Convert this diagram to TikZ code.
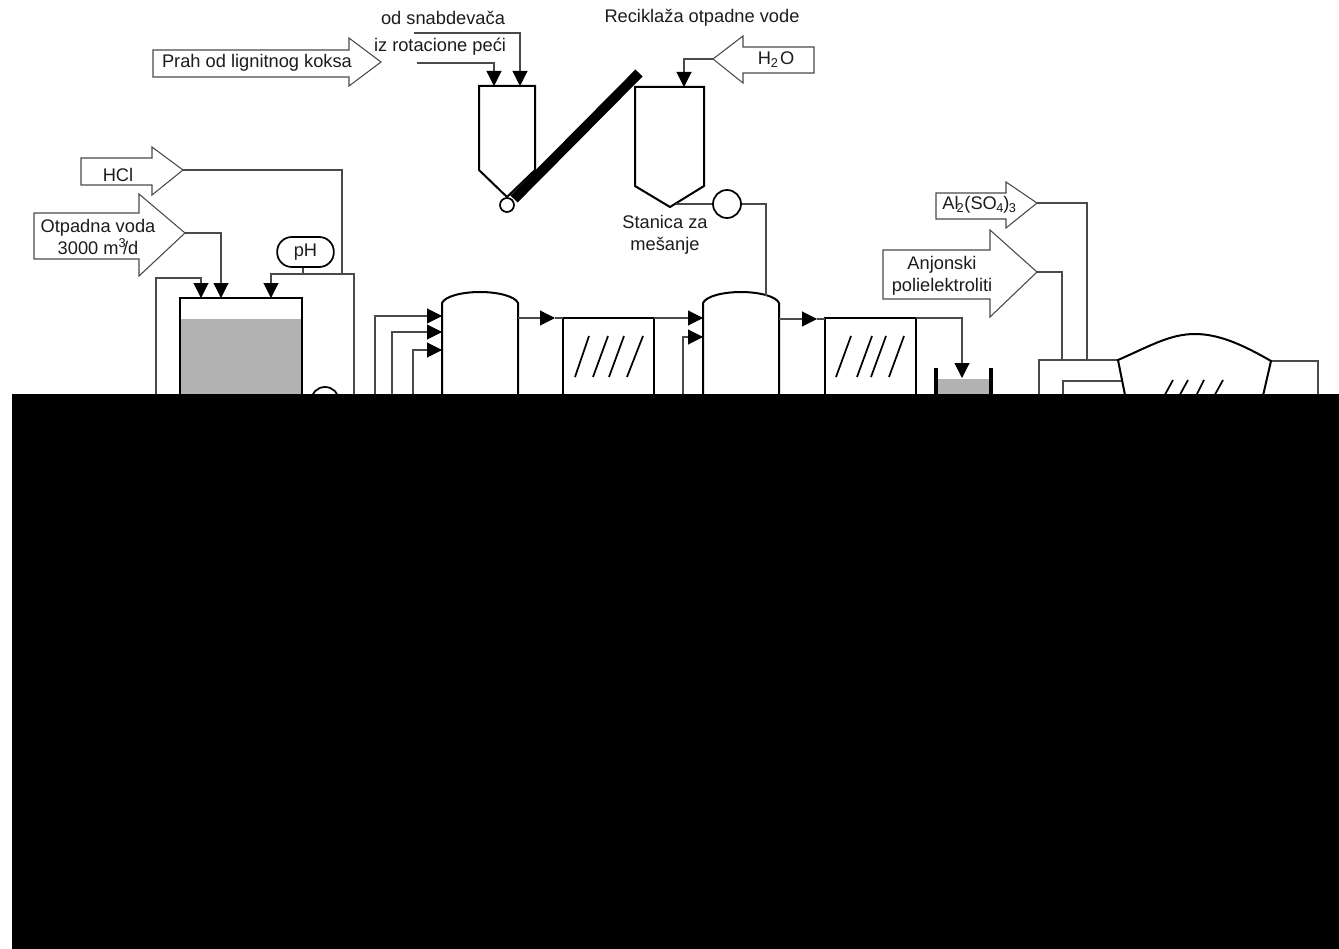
\documentclass[tikz,border=0pt]{standalone}
\usepackage{fontspec}
\setmainfont{Liberation Sans}
\usetikzlibrary{arrows.meta}
\definecolor{ink}{HTML}{1C1C1C}
\definecolor{pipeink}{HTML}{4A4A4A}
\definecolor{liquid}{HTML}{B2B2B2}
\tikzset{
  pipe/.style={draw=pipeink,line width=0.8pt},
  feed/.style={pipe,-{Triangle[length=11.25pt,width=11.25pt,color=black]}},
  wall/.style={draw=black,line width=1.5pt,line join=miter},
  bigarrow/.style={draw=pipeink,line width=0.8pt,fill=white,line join=miter},
  hatch/.style={draw=black,line width=1.3pt},
  label/.style={inner sep=0pt,text=ink,font=\fontsize{13.7}{16.5}\selectfont,align=center},
  pumpc/.style={circle,draw=black,line width=1.3pt,fill=white,inner sep=0pt,minimum size=21pt},
}
\begin{document}
\begin{tikzpicture}[x=0.75pt,y=-0.75pt]
\useasboundingbox (0,0) rectangle (1339,949);
% ---- big input arrows
\draw[bigarrow] (153,50)--(349,50)--(349,38)--(381,62)--(349,86)--(349,77)--(153,77)--cycle;
\node[label] (prah) at (257,63) {Prah od lignitnog koksa};
\draw[bigarrow] (81,158)--(152,158)--(152,147)--(183,170)--(152,195)--(152,185)--(81,185)--cycle;
\coordinate (hcltip) at (183,170);
\node[label] (hcl) at (118,175) {HCl};
\draw[bigarrow] (34,213)--(139,213)--(139,194)--(185,233)--(139,276)--(139,259)--(34,259)--cycle;
\coordinate (otptip) at (185,233);
\node[label] (otp) at (98,237) {Otpadna voda\\3000 m\textsuperscript{3}\kern-2.5pt/d};
\draw[bigarrow] (814,47)--(743,47)--(743,36)--(713,59)--(743,83)--(743,73)--(814,73)--cycle;
\coordinate (h2otip) at (713,59);
\node[label] (h2o) at (776,60) {H\textsubscript{2}\kern1pt O};
\draw[bigarrow] (936,193)--(1006,193)--(1006,182)--(1037,203)--(1006,228)--(1006,219)--(936,219)--cycle;
\coordinate (altip) at (1037,203);
\node[label] (al) at (979.5,205) {Al\kern-1.5pt\textsubscript{2}(SO\kern-.5pt\textsubscript{4}\kern-.5pt)\kern-.5pt\textsubscript{3}};
\draw[bigarrow] (883,250)--(990,250)--(990,230)--(1037,272)--(990,317)--(990,299)--(883,299)--cycle;
\coordinate (anjtip) at (1037,272);
\node[label] (anj) at (942,276) {Anjonski\\polielektroliti};
% ---- free labels
\node[label] (sn) at (443,18) {od snabdevača};
\node[label] (rot) at (440,47) {iz rotacione peći};
\node[label] (rec) at (702,18) {Reciklaža otpadne vode};
\node[label] (sta) at (665,235) {Stanica za\\mešanje};
% ---- hopper 1 with conveyor
\draw[wall] (479,86)--(535,86)--(535,170)--(507,197)--(479,170)--cycle;
\coordinate (h1a) at (494,86);
\coordinate (h1b) at (520,86);
\coordinate (rotend) at (417,63);
\coordinate (snend) at (414,33);
\draw[draw=black,line width=7.5pt] (514,199)--(639,73);
\node[pumpc,minimum size=10.5pt] (roller) at (507,205) {};
\draw[feed] (rotend) -| (h1a);
\draw[feed] (snend) -| (h1b);
% ---- hopper 2
\draw[wall] (635,87)--(704,87)--(704,186)--(670,207)--(635,186)--cycle;
\coordinate (h2top) at (684,87);
\coordinate (h2apex) at (676,204);
\draw[feed] (h2otip) -| (h2top);
\node[pumpc] (pump2) at (727,204) {};
\draw[pipe] (h2apex) -- (pump2);
% ---- pH tank
\fill[liquid] (180,319) rectangle (302,400);
\draw[wall] (180,400)--(180,298)--(302,298)--(302,400);
\coordinate (ta) at (201,298);
\coordinate (tb) at (221,298);
\coordinate (tc) at (271,298);
\coordinate (l1) at (156,400);
\coordinate (l1t) at (156,278);
\coordinate (r1) at (354,400);
\coordinate (j1) at (342,274);
\coordinate (j2) at (303,274);
\node[draw=black,line width=1.3pt,rounded corners=11pt,minimum width=42.5pt,minimum height=22.5pt,inner sep=0pt,font=\fontsize{13.7}{16.5}\selectfont,text=ink] (ph) at (305.5,252) {pH};
\draw[feed] (l1) |- (l1t) -| (ta);
\draw[feed] (otptip) -| (tb);
\draw[feed] (r1) |- (j2) -| (tc);
\draw[pipe] (hcltip) -| (j1);
\draw[pipe] (ph.south -| j2) -- (j2);
\node[pumpc] (pump1) at (325,401) {};
% ---- vessel 1
\draw[wall] (442,400)--(442,303) .. controls (445,296) and (463,292) .. (480,292) .. controls (497,292) and (515,296) .. (518,303)--(518,400);
\coordinate (v1a) at (442,316);
\coordinate (v1b) at (442,332);
\coordinate (v1c) at (442,350);
\coordinate (v1o) at (518,318);
\coordinate (la) at (375,400);
\coordinate (lb) at (392,400);
\coordinate (lc) at (413,400);
\draw[feed] (la) |- (v1a);
\draw[feed] (lb) |- (v1b);
\draw[feed] (lc) |- (v1c);
% ---- filter 1
\draw[wall] (563,400)--(563,318)--(654,318)--(654,400);
\coordinate (f1i) at (555,318);
\coordinate (f1l) at (563,318);
\coordinate (f1o) at (654,318);
\draw[feed] (v1o) -- (f1i);
\draw[pipe] (f1i) -- (f1l);
\draw[hatch] (575,377)--(589,336) (593,377)--(608,336) (609,377)--(624,336) (627,377)--(643,336);
% ---- vessel 2
\draw[wall] (703,400)--(703,303) .. controls (706,296) and (724,292) .. (741,292) .. controls (758,292) and (776,296) .. (779,303)--(779,400);
\coordinate (v2a) at (703,318);
\coordinate (v2b) at (703,337);
\coordinate (v2t) at (766,296);
\coordinate (v2o) at (779,319);
\coordinate (ld) at (683,400);
\draw[feed] (f1o) -- (v2a);
\draw[feed] (ld) |- (v2b);
\draw[pipe] (pump2) -| (v2t);
% ---- filter 2
\draw[wall] (825,400)--(825,318)--(916,318)--(916,400);
\coordinate (f2i) at (817,319);
\coordinate (f2l) at (825,319);
\coordinate (f2o) at (916,318);
\draw[feed] (v2o) -- (f2i);
\draw[pipe] (f2i) -- (f2l);
\draw[hatch] (836,377)--(851,336) (857,377)--(872,336) (871,377)--(886,336) (889,377)--(904,336);
% ---- small tank
\fill[liquid] (938,379) rectangle (989,400);
\draw[draw=black,line width=3pt] (936,368)--(936,400) (991,368)--(991,400);
\coordinate (st) at (962,378);
\draw[feed] (f2o) -| (st);
% ---- clarifier
\coordinate (cl) at (1118,360);
\coordinate (cr) at (1271,361);
\coordinate (cin) at (1121,381);
\coordinate (b1) at (1039,400);
\coordinate (b2) at (1063,400);
\coordinate (b3) at (1318,400);
\coordinate (j3) at (1062,360);
\coordinate (j4) at (1087,360);
\draw[pipe] (b1) |- (cl);
\draw[pipe] (b2) |- (cin);
\draw[pipe] (anjtip) -| (j3);
\draw[pipe] (altip) -| (j4);
\draw[pipe] (cr) -| (b3);
\draw[wall] (1126,400)--(cl) .. controls (1150,346) and (1170,334) .. (1195,334) .. controls (1220,334) and (1245,346) .. (cr)--(1262,400);
\draw[hatch] (1162,400)--(1173,380) (1177,400)--(1188,380) (1194,400)--(1204,380) (1212,400)--(1223,380);
% ---- black mask
\fill[black] (12,394) rectangle (1339,949);
\end{tikzpicture}
\end{document}
